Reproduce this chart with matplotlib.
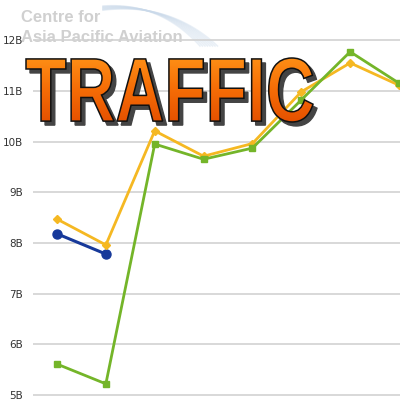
import numpy as np
import matplotlib
matplotlib.use("Agg")
import matplotlib.pyplot as plt
from matplotlib.textpath import TextPath
from matplotlib.font_manager import FontProperties
from matplotlib.patches import PathPatch
from matplotlib.transforms import Affine2D
from matplotlib.colors import LinearSegmentedColormap

# ---- data ----
periods = list(range(8))
blue_vals = [8.18, 7.78]
yellow_vals = [8.47, 7.96, 10.21, 9.71, 9.96, 10.98, 11.55, 11.11]
green_vals = [5.61, 5.22, 9.95, 9.65, 9.87, 10.82, 11.77, 11.15]
y_ticks = [5, 6, 7, 8, 9, 10, 11, 12]
y_labels = ["5B", "6B", "7B", "8B", "9B", "10B", "11B", "12B"]
watermark = ["Centre for", "Asia Pacific Aviation"]
title = "TRAFFIC"

W = H = 400
fig = plt.figure(figsize=(4, 4), dpi=100)
fig.patch.set_facecolor("white")

# main axes
ax = fig.add_axes([33 / W, 0, 1 - 33 / W, 1])
ax.set_facecolor("none")
ax.set_xlim((33 - 57) / 48.86, (400 - 57) / 48.86)
ax.set_ylim(5 - 5 / 50.7, 5 + 395 / 50.7)
for s in ax.spines.values():
    s.set_visible(False)
ax.set_xticks([])
ax.set_yticks(y_ticks)
ax.set_yticklabels(y_labels, fontsize=7.5, color="#333333")
ax.tick_params(axis="y", length=0, pad=7)
ax.grid(axis="y", color="#d2d2d2", linewidth=1.2)
ax.set_axisbelow(True)

# background axes in pixel coords (watermark)
bg = fig.add_axes([0, 0, 1, 1], zorder=-1)
bg.set_xlim(0, W)
bg.set_ylim(0, H)
bg.axis("off")
t = np.linspace(0, 1, 60)
for k in range(8):
    x0, y0 = 103, H - 6 - k * 0.6
    x1, y1 = 160 + k * 1.5, H - 2
    x2, y2 = 200 + k * 2.5, H - 46
    xs = (1 - t) ** 2 * x0 + 2 * (1 - t) * t * x1 + t ** 2 * x2
    ys = (1 - t) ** 2 * y0 + 2 * (1 - t) * t * y1 + t ** 2 * y2
    bg.plot(xs, ys, color="#c9d9ea", lw=1.1, alpha=0.4)

bg.text(21, H - 18, watermark[0], fontsize=12, fontweight="bold",
        family="Liberation Sans", color="#d0d0d0", va="center", ha="left")
bg.text(21, H - 37, watermark[1], fontsize=12, fontweight="bold",
        family="Liberation Sans", color="#d0d0d0", va="center", ha="left")

# lines
ax.plot(periods[:len(blue_vals)], blue_vals, color="#17399a", lw=2.2,
        marker="o", ms=6.5, zorder=3)
ax.plot(periods, yellow_vals, color="#f5b822", lw=2.0,
        marker="D", ms=4.5, zorder=3)
ax.plot(periods, green_vals, color="#74b529", lw=2.0,
        marker="s", ms=4.8, zorder=4)

# overlay axes in pixel coords (title)
ov = fig.add_axes([0, 0, 1, 1], zorder=5)
ov.set_xlim(0, W)
ov.set_ylim(0, H)
ov.axis("off")
ov.patch.set_alpha(0)

fp = FontProperties(family="Liberation Sans", weight="bold")
tp = TextPath((0, 0), title, size=100, prop=fp)
ext = tp.get_extents()
bx0, bx1 = 26, 313
by_top, by_bot = 58, 122
sx = (bx1 - bx0) / ext.width
sy = (by_bot - by_top) / ext.height
tr = Affine2D().translate(-ext.x0, -ext.y0).scale(sx, sy).translate(bx0, H - by_bot)
path = tr.transform_path(tp)

shadow = Affine2D().translate(4, -4).transform_path(path)
ov.add_patch(PathPatch(shadow, facecolor="#444444", edgecolor="#444444", lw=1.0, zorder=1))
main = PathPatch(path, facecolor="none", edgecolor="#111111", lw=1.1, zorder=3)
ov.add_patch(main)
grad = np.linspace(0, 1, 256).reshape(-1, 1)
cmap = LinearSegmentedColormap.from_list("og", ["#ff9016", "#f56c06", "#e44f00"])
im = ov.imshow(grad, extent=[bx0 - 2, bx1 + 2, H - by_bot - 2, H - by_top + 2],
               cmap=cmap, aspect="auto", origin="upper", zorder=2)
clip = PathPatch(path, facecolor="none", edgecolor="none")
ov.add_patch(clip)
im.set_clip_path(clip)
ov.set_xlim(0, W)
ov.set_ylim(0, H)

fig.savefig("out.png", dpi=100)
